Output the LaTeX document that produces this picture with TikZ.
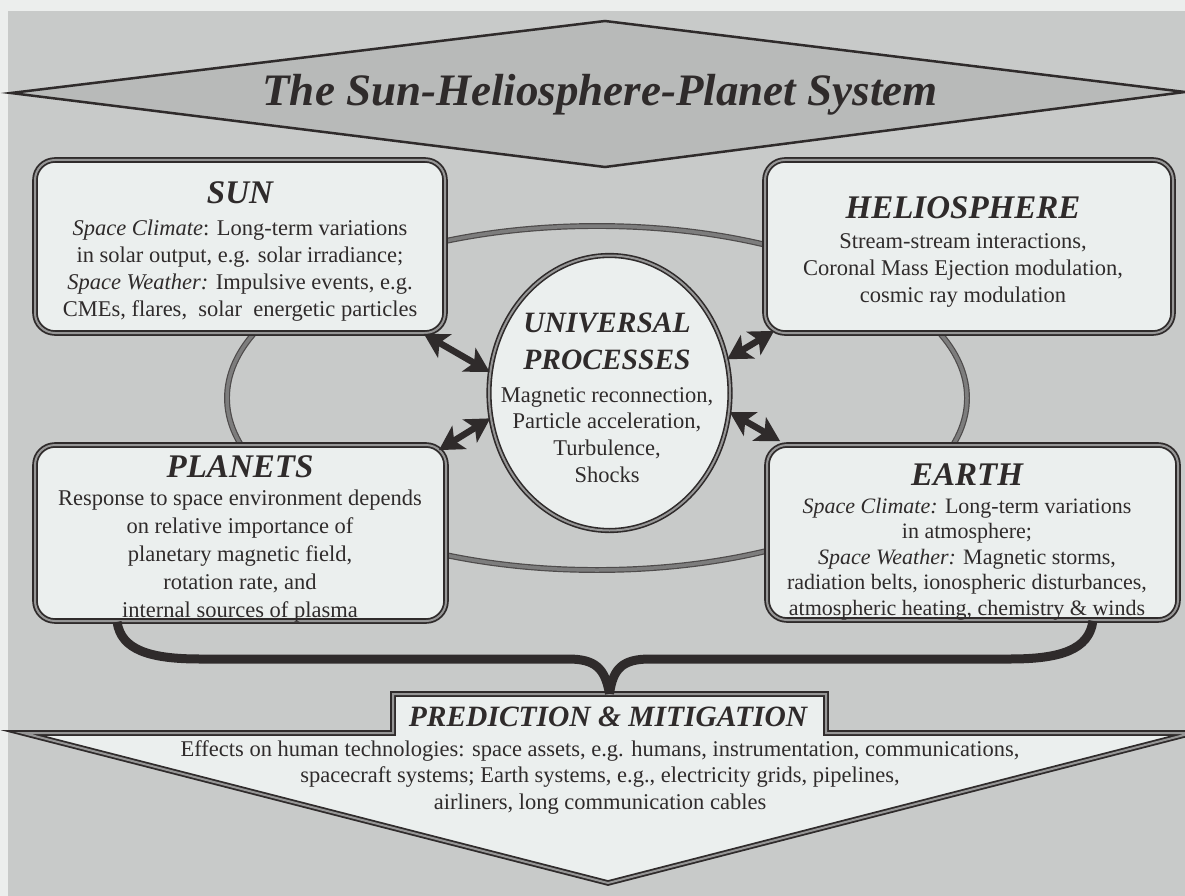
\documentclass[tikz,border=0pt]{standalone}
\usepackage{fontspec}
\setmainfont{Liberation Serif}
\usetikzlibrary{arrows.meta,shapes.geometric}
\definecolor{bgout}{RGB}{236,238,237}
\definecolor{stip}{RGB}{200,202,201}
\definecolor{stipd}{RGB}{184,186,185}
\definecolor{ink}{RGB}{47,43,43}
\definecolor{boxfill}{RGB}{235,239,238}
\definecolor{gapc}{RGB}{150,150,150}
\definecolor{ringc}{RGB}{125,125,125}
\begin{document}
\begin{tikzpicture}[x=1pt,y=-1pt,
  panel/.style={draw=ink, line width=1.8pt, double=gapc, double distance=2pt,
    fill=boxfill, rounded corners=20pt, inner sep=0pt},
  orb/.style={draw=ink, line width=1.6pt, double=gapc, double distance=2pt,
    fill=boxfill, inner sep=0pt},
  ring/.style={draw=ink!85, line width=1.2pt, double=ringc, double distance=3.5pt},
  head/.style={text=ink, font=\fontsize{33}{36}\selectfont\bfseries\itshape, inner sep=0pt, align=center},
  body/.style={text=ink, font=\fontsize{22.5}{27}\selectfont, align=center, inner sep=0pt},
  biarrow/.style={draw=ink, line width=6.5pt,
    {Stealth[length=24pt,width=27pt,inset=6pt]}-{Stealth[length=24pt,width=27pt,inset=6pt]}},
]
\useasboundingbox (0,0) rectangle (1185,896);
% background
\fill[bgout] (0,0) rectangle (1185,896);
\fill[stip] (8,11) rectangle (1185,896);

% title diamond
\draw[ink, line width=2.5pt, fill=stipd] (11,93) -- (605,21) -- (1185,92) -- (605,167) -- cycle;
\node[text=ink, font=\fontsize{45}{50}\selectfont\bfseries\itshape, inner sep=0pt] (title) at (600,95) {The Sun-Heliosphere-Planet System};

% orbit ring
\draw[ring] (597,398) ellipse [x radius=370pt, y radius=172pt];

% boxes
\node[panel, minimum width=410pt, minimum height=173pt] (sun) at (240,246.5) {};
\node[panel, minimum width=408pt, minimum height=173pt] (helio) at (969,246.5) {};
\node[panel, minimum width=411pt, minimum height=176pt] (planets) at (240.5,533) {};
\node[panel, minimum width=411pt, minimum height=175pt] (earth) at (972.5,532.5) {};
\node[orb, ellipse, minimum width=241pt, minimum height=275pt] (up) at (609.5,393) {};

% texts
\node[head] (sunh) at (240,193) {SUN};
\node[body] (sunb) at (240,271) {\textit{Space Climate}: Long-term variations\\
in solar output, e.g. solar irradiance;\\
\textit{Space Weather:} Impulsive events, e.g.\\
CMEs, flares,\ \ solar\ \ energetic particles};

\node[head] (helioh) at (963,208) {HELIOSPHERE};
\node[body] (heliob) at (963,270) {Stream-stream interactions,\\
Coronal Mass Ejection modulation,\\
cosmic ray modulation};

\node[head, font=\fontsize{29.5}{37}\selectfont\bfseries\itshape] (uph) at (607,341.5) {UNIVERSAL\\PROCESSES};
\node[body, font=\fontsize{22.5}{26.7}\selectfont] (upb) at (607,435) {Magnetic reconnection,\\
Particle acceleration,\\
Turbulence,\\
Shocks};

\node[head] (planetsh) at (240,467) {PLANETS};
\node[body, font=\fontsize{22.5}{28}\selectfont] (planetsb) at (240,556) {Response to space environment depends\\
on relative importance of\\
planetary magnetic field,\\
rotation rate, and\\
internal sources of plasma};

\node[head] (earthh) at (967,475) {EARTH};
\node[body, font=\fontsize{22}{25.5}\selectfont] (earthb) at (967,559) {\textit{Space Climate:} Long-term variations\\
in atmosphere;\\
\textit{Space Weather:} Magnetic storms,\\
radiation belts, ionospheric disturbances,\\
atmospheric heating, chemistry \& winds};

% arrows
\draw[biarrow] ([xshift=-22pt]sun.south east) -- (up.170);
\draw[biarrow] ([xshift=10pt,yshift=3pt]helio.south west) -- (up.16);
\draw[biarrow] ([xshift=-8pt,yshift=-6pt]planets.north east) -- (up.192);
\draw[biarrow] ([xshift=14pt,yshift=3pt]earth.north west) -- (up.-9);

% prediction arrow
\draw[ink, line width=1.8pt, double=gapc, double distance=2pt, fill=boxfill, line join=miter]
  (23,733) -- (393,733) -- (393,694) -- (826,694) -- (826,733) -- (1192,733) -- (608,883) -- cycle;
\node[inner sep=0pt, minimum width=433pt, minimum height=39pt] (pred) at (609.5,713.5) {};
\node[head, font=\fontsize{29.5}{32}\selectfont\bfseries\itshape] (predh) at (608,717) {PREDICTION \& MITIGATION};
\node[body, font=\fontsize{22.5}{26.5}\selectfont] (predb) at (600,777) {Effects on human technologies: space assets, e.g. humans, instrumentation, communications,\\
spacecraft systems; Earth systems, e.g., electricity grids, pipelines,\\
airliners, long communication cables};

% brace
\draw[ink, line width=9pt]
  ([xshift=83pt]planets.south west) .. controls (121,650) and (150,659) .. (200,659)
  -- (568,659) .. controls (595,659) and (605,668) .. (pred.north);
\draw[ink, line width=9pt]
  ([xshift=-86pt]earth.south east) .. controls (1089,650) and (1060,659) .. (1010,659)
  -- (650,659) .. controls (623,659) and (613,668) .. (pred.north);
\end{tikzpicture}
\end{document}
